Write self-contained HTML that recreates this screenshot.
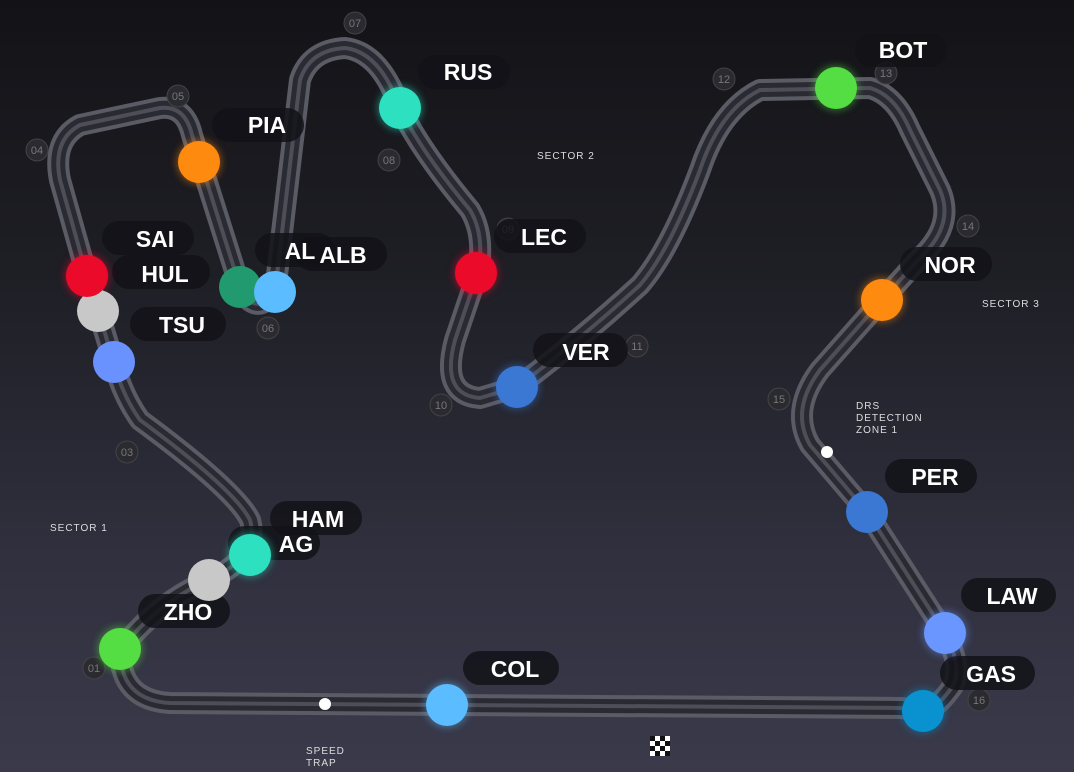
<!DOCTYPE html>
<html><head><style>
body{margin:0;width:1074px;height:772px;overflow:hidden;background:linear-gradient(180deg,#131317 0%,#1e1e25 35%,#2f2f3d 70%,#3a3a4b 100%);font-family:"Liberation Sans",sans-serif}
svg{position:absolute;left:0;top:0}
</style></head><body>
<svg width="1074" height="772" viewBox="0 0 1074 772">
<defs>
<filter id="g" x="-1" y="-1" width="3" height="3"><feGaussianBlur stdDeviation="4"/></filter>
<path id="t" d="M925,710 L900,708 L170,703 Q120,700 120,650 Q160,600 210,580 Q260,555 250,520 Q235,490 140,420 Q122,395 113,360 L98,310 L87,276 L60,180 Q52,140 80,125 L160,108 Q185,105 192,135 L240,287 Q255,318 275,292 L300,80 Q310,50 345,48 Q380,52 400,108 Q420,150 470,210 Q485,235 478,272 L455,340 Q440,395 480,398 L517,387 Q580,340 640,285 Q670,250 700,170 Q720,110 760,90 L870,88 Q895,95 910,130 L940,190 Q955,225 920,258 L882,300 L820,370 Q790,410 810,445 L867,512 L945,633 Q965,672 950,690 Q935,710 925,710"/>
</defs>
<g fill="none" stroke-linejoin="round" stroke-linecap="round">
<use href="#t" stroke="#5b5b66" stroke-width="22"/>
<use href="#t" stroke="#2a2a33" stroke-width="14"/>
<use href="#t" stroke="#4e4e58" stroke-width="4"/>
</g>
<g font-family="Liberation Sans" font-size="11" fill="#777" text-anchor="middle">
<g fill="#2a2a30" stroke="#444" stroke-width="1">
<circle cx="94" cy="668" r="11"/><circle cx="127" cy="452" r="11"/><circle cx="37" cy="150" r="11"/><circle cx="178" cy="96" r="11"/><circle cx="268" cy="328" r="11"/><circle cx="355" cy="23" r="11"/><circle cx="389" cy="160" r="11"/><circle cx="508" cy="229" r="11"/><circle cx="441" cy="405" r="11"/><circle cx="637" cy="346" r="11"/><circle cx="724" cy="79" r="11"/><circle cx="886" cy="73" r="11"/><circle cx="968" cy="226" r="11"/><circle cx="779" cy="399" r="11"/><circle cx="979" cy="700" r="11"/>
</g>
<text x="94" y="672">01</text><text x="127" y="456">03</text><text x="37" y="154">04</text><text x="178" y="100">05</text><text x="268" y="332">06</text><text x="355" y="27">07</text><text x="389" y="164">08</text><text x="508" y="233">09</text><text x="441" y="409">10</text><text x="637" y="350">11</text><text x="724" y="83">12</text><text x="886" y="77">13</text><text x="968" y="230">14</text><text x="779" y="403">15</text><text x="979" y="704">16</text>
</g>
<g fill="#ddd" font-size="10" letter-spacing="1">
<text x="537" y="159">SECTOR 2</text><text x="982" y="307">SECTOR 3</text><text x="50" y="531">SECTOR 1</text>
<text x="856" y="409">DRS</text><text x="856" y="421">DETECTION</text><text x="856" y="433">ZONE 1</text>
<text x="306" y="754">SPEED</text><text x="306" y="766">TRAP</text>
</g>
<circle cx="827" cy="452" r="6" fill="#fff"/><circle cx="325" cy="704" r="6" fill="#fff"/>
<rect x="650" y="736" width="20" height="20" fill="#fff"/>
<g fill="#111"><rect x="650" y="736" width="5" height="5"/><rect x="660" y="736" width="5" height="5"/><rect x="655" y="741" width="5" height="5"/><rect x="665" y="741" width="5" height="5"/><rect x="650" y="746" width="5" height="5"/><rect x="660" y="746" width="5" height="5"/><rect x="655" y="751" width="5" height="5"/><rect x="665" y="751" width="5" height="5"/></g>
<g fill="rgba(18,18,24,0.85)">
<rect x="418" y="55" width="92" height="34" rx="17"/>
<rect x="855" y="33" width="92" height="34" rx="17"/>
<rect x="212" y="108" width="92" height="34" rx="17"/>
<rect x="102" y="221" width="92" height="34" rx="17"/>
<rect x="112" y="255" width="98" height="34" rx="17"/>
<rect x="255" y="233" width="80" height="34" rx="17"/>
<rect x="295" y="237" width="92" height="34" rx="17"/>
<rect x="494" y="219" width="92" height="34" rx="17"/>
<rect x="900" y="247" width="92" height="34" rx="17"/>
<rect x="130" y="307" width="96" height="34" rx="17"/>
<rect x="533" y="333" width="95" height="34" rx="17"/>
<rect x="885" y="459" width="92" height="34" rx="17"/>
<rect x="270" y="501" width="92" height="34" rx="17"/>
<rect x="228" y="526" width="92" height="34" rx="17"/>
<rect x="138" y="594" width="92" height="34" rx="17"/>
<rect x="463" y="651" width="96" height="34" rx="17"/>
<rect x="961" y="578" width="95" height="34" rx="17"/>
<rect x="940" y="656" width="95" height="34" rx="17"/>
</g>
<g fill="#fff" font-weight="bold" font-size="23" text-anchor="middle">
<text x="468" y="80">RUS</text><text x="903" y="58">BOT</text><text x="267" y="133">PIA</text>
<text x="155" y="247">SAI</text><text x="165" y="282">HUL</text><text x="300" y="259">AL</text><text x="343" y="263">ALB</text>
<text x="544" y="245">LEC</text><text x="950" y="273">NOR</text><text x="182" y="333">TSU</text><text x="586" y="360">VER</text>
<text x="935" y="485">PER</text><text x="318" y="527">HAM</text><text x="296" y="552">AG</text><text x="188" y="620">ZHO</text>
<text x="515" y="677">COL</text><text x="1012" y="604">LAW</text><text x="991" y="682">GAS</text>
</g>
<g filter="url(#g)">
<circle cx="400" cy="108" r="22" fill="#2de0c0" opacity=".5"/><circle cx="836" cy="88" r="22" fill="#55dd44" opacity=".5"/><circle cx="199" cy="162" r="22" fill="#ff8a10" opacity=".5"/><circle cx="87" cy="276" r="22" fill="#ff1030" opacity=".5"/><circle cx="476" cy="273" r="22" fill="#ff1030" opacity=".5"/><circle cx="882" cy="300" r="22" fill="#ff8a10" opacity=".5"/><circle cx="517" cy="387" r="22" fill="#3a7ad8" opacity=".5"/><circle cx="250" cy="555" r="22" fill="#2de0c0" opacity=".5"/><circle cx="120" cy="649" r="22" fill="#55dd44" opacity=".5"/><circle cx="447" cy="705" r="22" fill="#5bbcff" opacity=".5"/><circle cx="945" cy="633" r="22" fill="#6a96ff" opacity=".5"/><circle cx="923" cy="711" r="22" fill="#0a92d0" opacity=".5"/>
</g>
<circle cx="400" cy="108" r="21" fill="#2de0c0"/>
<circle cx="836" cy="88" r="21" fill="#55dd44"/>
<circle cx="199" cy="162" r="21" fill="#ff8a10"/>
<circle cx="98" cy="311" r="21" fill="#c8c8c8"/>
<circle cx="87" cy="276" r="21" fill="#ec0a2a"/>
<circle cx="114" cy="362" r="21" fill="#6a92ff"/>
<circle cx="240" cy="287" r="21" fill="#229a70"/>
<circle cx="275" cy="292" r="21" fill="#5bbcff"/>
<circle cx="476" cy="273" r="21" fill="#ec0a2a"/>
<circle cx="882" cy="300" r="21" fill="#ff8a10"/>
<circle cx="517" cy="387" r="21" fill="#3a78d4"/>
<circle cx="867" cy="512" r="21" fill="#3a78d4"/>
<circle cx="209" cy="580" r="21" fill="#c8c8c8"/>
<circle cx="250" cy="555" r="21" fill="#2de0c0"/>
<circle cx="120" cy="649" r="21" fill="#55dd44"/>
<circle cx="447" cy="705" r="21" fill="#5bbcff"/>
<circle cx="945" cy="633" r="21" fill="#6a96ff"/>
<circle cx="923" cy="711" r="21" fill="#0a92d0"/>
</svg>
</body></html>
